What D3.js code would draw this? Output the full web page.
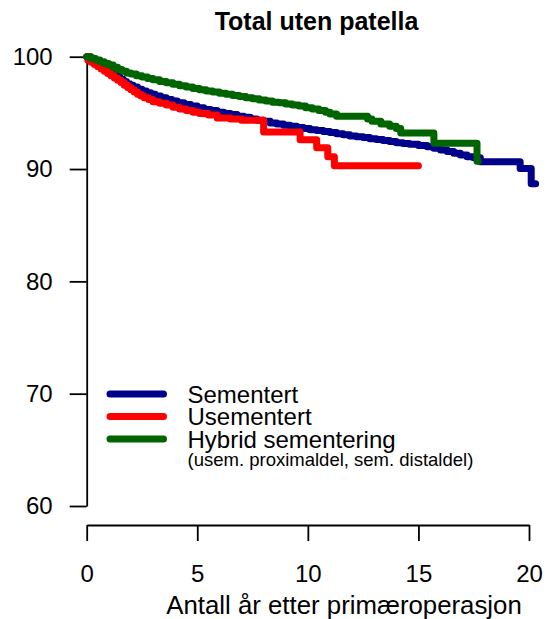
<!DOCTYPE html>
<html>
<head>
<meta charset="utf-8">
<script src="https://cdn.jsdelivr.net/npm/d3@7"></script>
<style>
  html, body { margin: 0; padding: 0; background: #fff; }
  svg { display: block; font-family: "Liberation Sans", Arial, Helvetica, sans-serif; }
</style>
</head>
<body>
<svg id="chart" width="553" height="619"></svg>
<script>
// ---- Data ----
const title = "Total uten patella";
const xLabel = "Antall år etter primæroperasjon";
const xTicks = [0, 5, 10, 15, 20];
const yTicks = [60, 70, 80, 90, 100];

const seriesNames = ["Sementert", "Usementert", "Hybrid sementering"];
const legendNote = "(usem. proximaldel, sem. distaldel)";
const seriesColors = ["#00008B", "#FF0000", "#006400"];

const semTime = [0, 0.15, 0.3, 0.45, 0.6, 0.75, 0.9, 1.05, 1.2, 1.35, 1.5, 1.65, 1.8, 1.95, 2.1, 2.3, 2.5, 2.7, 2.9, 3.1, 3.35, 3.6, 3.85, 4.1, 4.4, 4.7, 5.0, 5.3, 5.6, 5.9, 6.2, 6.5, 6.8, 7.1, 7.4, 7.7, 8.0, 8.3, 8.6, 8.9, 9.2, 9.5, 9.8, 10.1, 10.4, 10.7, 11.0, 11.3, 11.6, 11.9, 12.2, 12.5, 12.8, 13.1, 13.4, 13.7, 14.0, 14.3, 14.6, 15.0, 15.4, 15.7, 16.0, 16.3, 16.6, 16.9, 17.2, 17.5, 17.8, 19.6, 20.1, 20.3];
const semSurv = [100, 99.8, 99.6, 99.4, 99.2, 99.0, 98.8, 98.6, 98.4, 98.2, 98.0, 97.8, 97.6, 97.45, 97.3, 97.1, 96.95, 96.8, 96.65, 96.5, 96.35, 96.2, 96.05, 95.9, 95.75, 95.6, 95.45, 95.3, 95.2, 95.05, 94.95, 94.85, 94.7, 94.6, 94.45, 94.35, 94.25, 94.1, 94.0, 93.9, 93.8, 93.7, 93.6, 93.5, 93.42, 93.33, 93.25, 93.15, 93.05, 92.95, 92.88, 92.8, 92.7, 92.62, 92.55, 92.45, 92.35, 92.28, 92.2, 92.1, 91.98, 91.85, 91.7, 91.55, 91.4, 91.25, 91.1, 91.0, 90.65, 90.05, 88.7, 88.7];

const usemTime = [0, 0.05, 0.2, 0.35, 0.5, 0.65, 0.8, 0.95, 1.1, 1.25, 1.4, 1.55, 1.7, 1.85, 2.0, 2.15, 2.3, 2.45, 2.6, 2.8, 3.0, 3.3, 3.6, 3.9, 4.2, 4.5, 4.8, 5.1, 5.5, 5.9, 6.5, 7.0, 8.0, 9.65, 10.4, 10.9, 11.2, 15.0];
const usemSurv = [100, 99.7, 99.5, 99.3, 99.1, 98.9, 98.7, 98.5, 98.3, 98.1, 97.9, 97.7, 97.45, 97.25, 97.05, 96.85, 96.65, 96.5, 96.35, 96.2, 96.0, 95.85, 95.7, 95.5, 95.35, 95.2, 95.05, 94.95, 94.8, 94.55, 94.45, 94.35, 93.3, 92.6, 91.9, 91.1, 90.3, 90.3];

const hybTime = [0, 0.2, 0.4, 0.6, 0.8, 1.0, 1.2, 1.4, 1.6, 1.8, 2.0, 2.25, 2.5, 2.75, 3.0, 3.3, 3.6, 3.9, 4.2, 4.5, 4.8, 5.1, 5.4, 5.7, 6.0, 6.3, 6.6, 6.9, 7.2, 7.5, 7.8, 8.1, 8.4, 8.7, 9.0, 9.3, 9.6, 9.9, 10.2, 10.5, 10.8, 11.0, 11.3, 12.7, 12.9, 13.3, 13.7, 14.0, 14.2, 15.7, 17.65, 17.7];
const hybSurv = [100, 99.85, 99.7, 99.55, 99.4, 99.25, 99.05, 98.85, 98.7, 98.55, 98.45, 98.3, 98.2, 98.05, 97.95, 97.8, 97.68, 97.55, 97.42, 97.3, 97.18, 97.05, 96.95, 96.85, 96.75, 96.65, 96.55, 96.45, 96.35, 96.25, 96.15, 96.05, 95.95, 95.9, 95.8, 95.7, 95.6, 95.45, 95.35, 95.2, 95.05, 94.9, 94.7, 94.45, 94.25, 94.0, 93.8, 93.6, 93.2, 92.3, 90.7, 90.7];

const seriesTimes = [semTime, usemTime, hybTime];
const seriesSurv = [semSurv, usemSurv, hybSurv];

// ---- Drawing ----
const svg = d3.select("#chart");
const x = d3.scaleLinear().domain([0, 20]).range([86.7, 529]);
const y = d3.scaleLinear().domain([60, 100]).range([506, 56.7]);

// Title
svg.append("text")
  .attr("x", 316.5).attr("y", 29.5)
  .attr("text-anchor", "middle")
  .attr("font-size", 25).attr("font-weight", "bold")
  .text(title);

// Y axis
const yAxis = svg.append("g")
  .attr("transform", "translate(86.7,0)")
  .call(d3.axisLeft(y).tickValues(yTicks).tickSize(17).tickSizeOuter(0).tickPadding(17).tickFormat(d3.format("d")));
// X axis
const xAxis = svg.append("g")
  .attr("transform", "translate(0,525)")
  .call(d3.axisBottom(x).tickValues(xTicks).tickSize(16).tickSizeOuter(0).tickPadding(24).tickFormat(d3.format("d")));

[yAxis, xAxis].forEach(g => {
  g.attr("font-family", null).attr("font-size", null);
  g.selectAll("path.domain").attr("stroke", "#000").attr("stroke-width", 1.8);
  g.selectAll(".tick line").attr("stroke", "#000").attr("stroke-width", 1.8);
  g.selectAll(".tick text").attr("font-size", 24).attr("fill", "#000");
});

// X axis title
svg.append("text")
  .attr("x", 344).attr("y", 614)
  .attr("text-anchor", "middle")
  .attr("font-size", 25.8)
  .text(xLabel);

// Survival step curves
const line = d3.line()
  .x(d => x(d[0]))
  .y(d => y(d[1]))
  .curve(d3.curveStepAfter);

seriesTimes.forEach((times, i) => {
  const pts = times.map((t, j) => [t, seriesSurv[i][j]]);
  svg.append("path")
    .datum(pts)
    .attr("d", line)
    .attr("fill", "none")
    .attr("stroke", seriesColors[i])
    .attr("stroke-width", 7)
    .attr("stroke-linecap", "round")
    .attr("stroke-linejoin", "round");
});

// Legend
const legend = svg.append("g");
seriesNames.forEach((name, i) => {
  const cy = 394 + i * 22.5;
  legend.append("line")
    .attr("x1", 110).attr("x2", 163.5)
    .attr("y1", cy).attr("y2", cy)
    .attr("stroke", seriesColors[i])
    .attr("stroke-width", 7)
    .attr("stroke-linecap", "round");
  legend.append("text")
    .attr("x", 187.5).attr("y", cy + 8.5)
    .attr("font-size", 24)
    .text(name);
});
legend.append("text")
  .attr("x", 187.5).attr("y", 466)
  .attr("font-size", 18.5)
  .text(legendNote);
</script>
</body>
</html>
